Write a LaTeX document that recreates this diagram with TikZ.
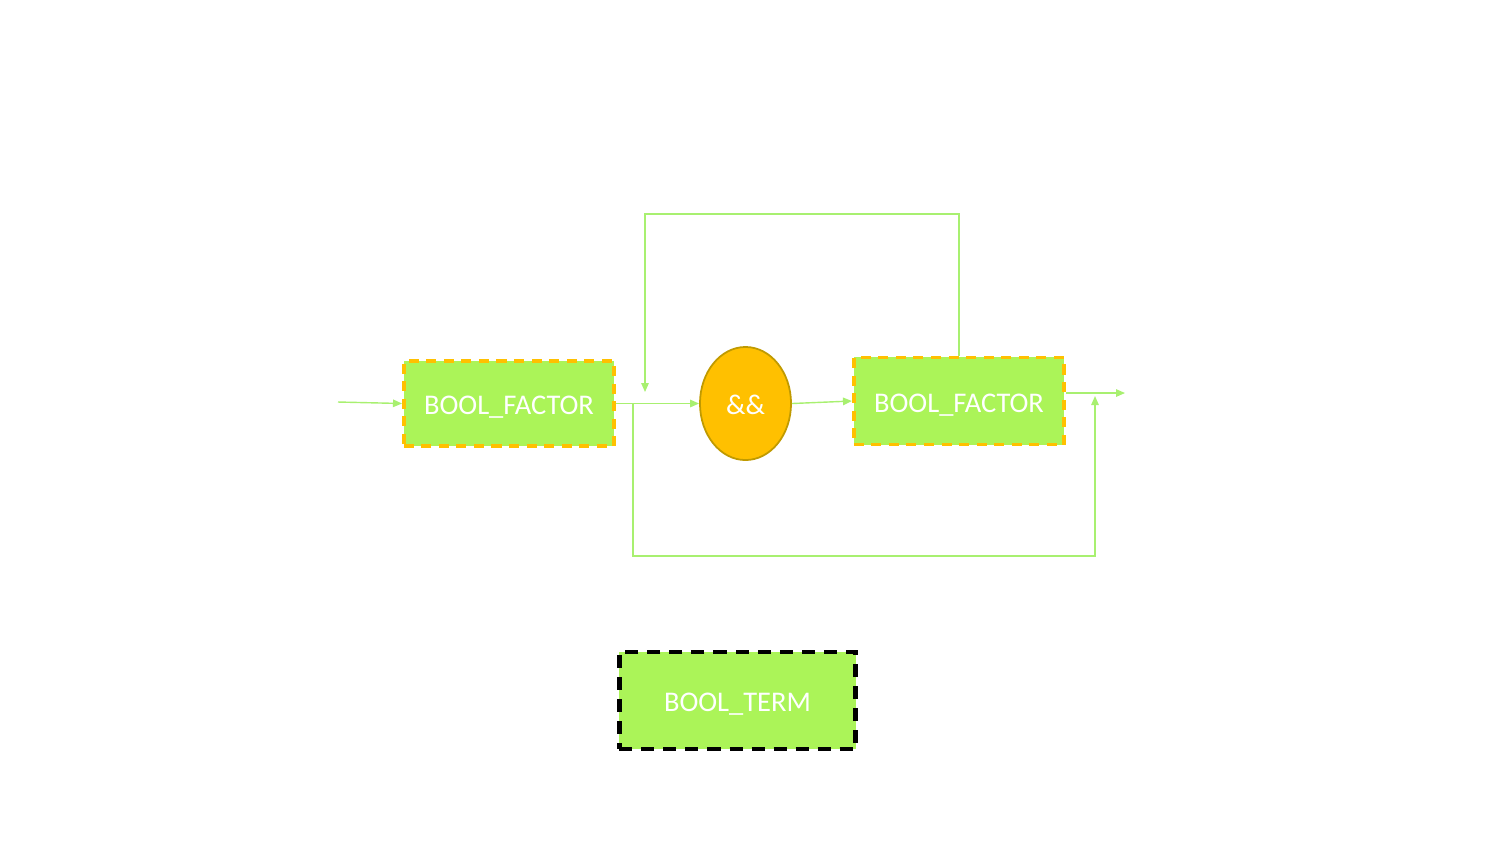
\documentclass[tikz,border=0pt]{standalone}
\usepackage{fontspec}
\setmainfont{Carlito}
\usetikzlibrary{arrows.meta,shapes.geometric}
\definecolor{boxgreen}{HTML}{ABF458}
\definecolor{linegreen}{HTML}{A8F070}
\definecolor{orangeC}{HTML}{FFC000}
\definecolor{orangeD}{HTML}{C09A00}
\begin{document}
\begin{tikzpicture}[x=0.01cm,y=-0.01cm,
  txt/.style={text=white, font=\fontsize{8.1}{9}\selectfont, text height=0.22cm, text depth=0pt},
  factorbox/.style={draw=orangeC, line width=1.1pt, dash pattern=on 0.1cm off 0.075cm, fill=boxgreen, txt, minimum width=2.10cm, inner sep=0pt},
  termbox/.style={draw=black, line width=1.3pt, dash pattern=on 0.13cm off 0.09cm, fill=boxgreen, txt, minimum width=2.36cm, minimum height=0.97cm, inner sep=0pt},
  opnode/.style={ellipse, draw=orangeD, line width=0.5pt, fill=orangeC, txt, minimum width=0.91cm, minimum height=1.13cm, inner sep=0pt},
  flow/.style={draw=linegreen, line width=0.4pt, -{Triangle[length=0.09cm,width=0.075cm]}}
]
\useasboundingbox (0,0) rectangle (1500,844);
\node[factorbox, minimum height=0.85cm] (f1) at (509,403.5) {BOOL\_FACTOR};
\node[opnode] (op) at (745.5,403.5) {\&\&};
\node[factorbox, minimum height=0.87cm] (f2) at (959,401) {BOOL\_FACTOR};
\node[termbox] (t) at (737.5,700.5) {BOOL\_TERM};
\coordinate (in) at (338,402);
\coordinate (out) at (1125,393);
\coordinate (loopend) at (645,392);
\coordinate (skipstart) at (633,403);
\coordinate (skipend) at (1095,396);
\draw[flow] (in) -- (f1.west);
\draw[flow] (f1.east) -- (op.west);
\draw[flow] (op.east) -- (f2.west);
\draw[flow] (f2.north) -- (959,214) -| (loopend);
\draw[flow] (f2.east |- out) -- (out);
\draw[flow] (skipstart) |- (1095,556) -- (skipend);
\end{tikzpicture}
\end{document}
